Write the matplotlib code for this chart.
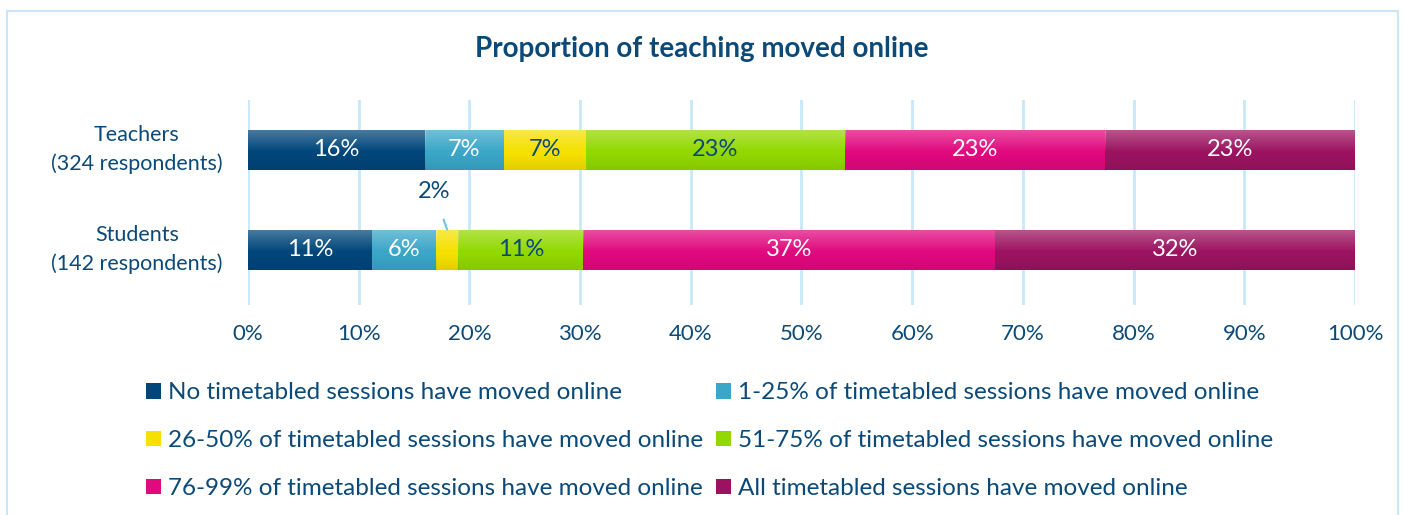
import matplotlib
matplotlib.use("Agg")
import matplotlib.pyplot as plt
from matplotlib.patches import Rectangle
import numpy as np

plt.rcParams["font.family"] = ["Lato", "DejaVu Sans"]

groups = ["Students\n(142 respondents)", "Teachers\n(324 respondents)"]
series = ["No timetabled sessions have moved online",
          "1-25% of timetabled sessions have moved online",
          "26-50% of timetabled sessions have moved online",
          "51-75% of timetabled sessions have moved online",
          "76-99% of timetabled sessions have moved online",
          "All timetabled sessions have moved online"]
# values per series: [students, teachers]
no_online = [11.2, 16.0]
pct_1_25 = [5.8, 7.1]
pct_26_50 = [2.0, 7.4]
pct_51_75 = [11.3, 23.4]
pct_76_99 = [37.2, 23.5]
all_online = [32.5, 22.6]
labels = [["11%", "16%"], ["6%", "7%"], ["", "7%"], ["11%", "23%"], ["37%", "23%"], ["32%", "23%"]]

values = [no_online, pct_1_25, pct_26_50, pct_51_75, pct_76_99, all_online]
colors = ["#00467a", "#3aa6c8", "#f5e000", "#92d800", "#e0097e", "#9b1360"]
txtcol = ["white", "white", "#0b4a78", "#0b4a78", "white", "white"]
navy = "#0b4a78"
grid = "#c8e8fa"

fig = plt.figure(figsize=(14.04, 5.15), dpi=100)
fig.patches.append(Rectangle((0.005, -0.02), 0.991, 0.9995, transform=fig.transFigure,
                             fill=False, edgecolor=grid, linewidth=1.5))
ax = fig.add_axes([0.1766, 0.408, 0.7885, 0.398])

# vertical shading overlay (lighter top, slightly darker bottom)
g = np.linspace(0, 1, 50)
shade = np.zeros((50, 1, 4))
top = np.clip(1 - g / 0.55, 0, 1)
bot = np.clip((g - 0.6) / 0.4, 0, 1)
shade[:, 0, :3] = np.where(top[:, None] > 0, 1.0, 0.0)
shade[:, 0, 3] = top * 0.28 + bot * 0.08

y = np.arange(len(groups))
left = np.zeros(len(groups))
handles = []
for i, v in enumerate(values):
    b = ax.barh(y, v, left=left, height=0.4, color=colors[i], label=series[i], zorder=3)
    handles.append(b)
    for j in range(len(groups)):
        ax.imshow(shade, extent=(left[j], left[j] + v[j], y[j] - 0.2, y[j] + 0.2),
                  aspect="auto", origin="upper", zorder=3.5, interpolation="bilinear")
        if labels[i][j]:
            ax.text(left[j] + v[j] / 2, y[j], labels[i][j], ha="center", va="center",
                    color=txtcol[i], fontsize=17, zorder=4)
    left += np.array(v)

# small segment label with leader line
x2 = no_online[0] + pct_1_25[0] + pct_26_50[0] / 2
ax.annotate("2%", xy=(x2, 0.2), xytext=(x2 - 1.2, 0.58), ha="center", va="center",
            fontsize=17, color=navy,
            arrowprops=dict(arrowstyle="-", color="#6cc3ee", lw=1.5, shrinkA=11, shrinkB=0))

ax.set_xlim(0, 100)
ax.set_ylim(-0.55, 1.5)
ax.set_xticks(np.arange(0, 101, 10))
ax.set_xticklabels([f"{t}%" for t in range(0, 101, 10)], fontsize=16, color=navy)
ax.set_yticks([])
for j, name in enumerate(groups):
    ax.text(-0.1003, y[j], name, transform=ax.get_yaxis_transform(), ha="center",
            va="center", multialignment="center", linespacing=1.5, fontsize=15.5, color=navy)
ax.tick_params(axis="x", length=0, pad=14)
ax.xaxis.grid(True, color=grid, linewidth=2, zorder=0)
for s in ax.spines.values():
    s.set_visible(False)

fig.suptitle("Proportion of teaching moved online", x=0.5, y=0.93, fontsize=20,
             fontweight="bold", color=navy)

order = [0, 2, 4, 1, 3, 5]
leg = fig.legend([handles[k] for k in order], [series[k] for k in order], ncol=2,
                 loc="upper left", bbox_to_anchor=(0.0885, 0.3), frameon=False,
                 fontsize=17.5, handlelength=0.6, handleheight=0.6, handletextpad=0.3,
                 columnspacing=0.53, labelspacing=1.1)
for t in leg.get_texts():
    t.set_color(navy)

fig.savefig("out.png", dpi=100)
